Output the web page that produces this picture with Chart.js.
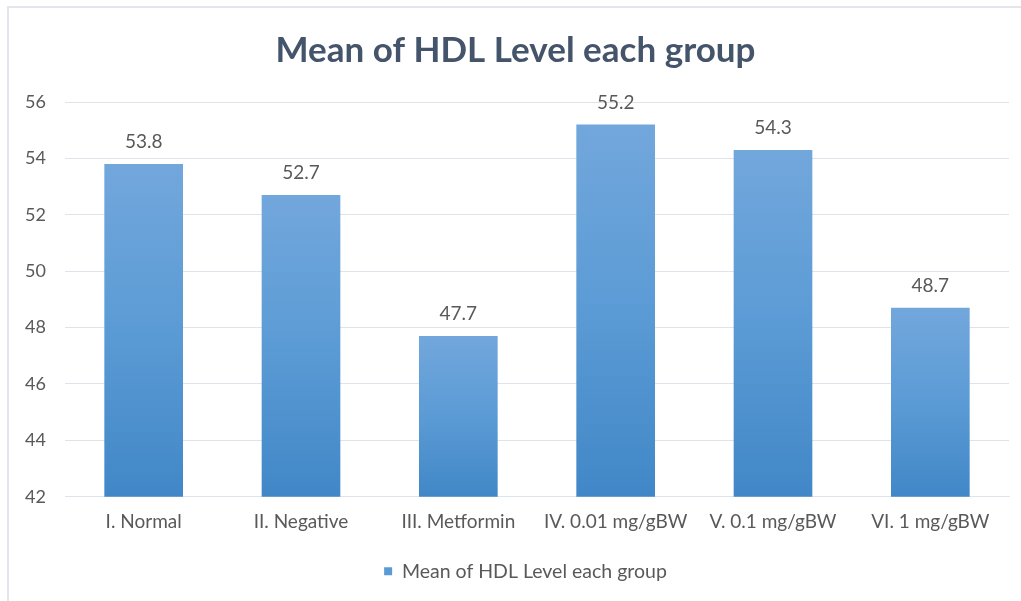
<!DOCTYPE html>
<html>
<head>
<meta charset="utf-8">
<script src="https://cdn.jsdelivr.net/npm/chart.js@4"></script>
<style>
html,body{margin:0;padding:0;background:#fff;}
#wrap{position:relative;width:1021px;height:601px;overflow:hidden;}
#frame{position:absolute;left:7px;top:6px;width:1030px;height:620px;border-top:2px solid #e3e6eb;border-left:2px solid #e3e6eb;}
canvas{position:absolute;left:0;top:0;}
</style>
</head>
<body>
<div id="wrap">
<div id="frame"></div>
<canvas id="c" width="1021" height="601"></canvas>
</div>
<script>
const categories = ["I. Normal", "II. Negative", "III. Metformin", "IV. 0.01 mg/gBW", "V. 0.1 mg/gBW", "VI. 1 mg/gBW"];
const hdlMeans = [53.8, 52.7, 47.7, 55.2, 54.3, 48.7];
const seriesName = "Mean of HDL Level each group";
const chartTitle = "Mean of HDL Level each group";
const yMin = 42, yMax = 56, yStep = 2;

const FONT = "Lato, 'Open Sans', sans-serif";
const TXT = "#595959";

function barFill(ctx) {
  const chart = ctx.chart;
  const ys = chart.scales && chart.scales.y;
  if (!chart.chartArea || !ys || ctx.dataIndex === undefined) return '#5b9bd5';
  const v = ctx.dataset.data[ctx.dataIndex];
  const top = ys.getPixelForValue(v);
  const base = ys.getPixelForValue(yMin);
  if (!isFinite(top) || !isFinite(base) || top === base) return '#5b9bd5';
  const g = chart.ctx.createLinearGradient(0, top, 0, base);
  g.addColorStop(0, '#72a7dc');
  g.addColorStop(0.5, '#5b9bd5');
  g.addColorStop(1, '#4187c7');
  return g;
}

const labelPlugin = {
  id: 'valueLabels',
  afterDatasetsDraw(chart) {
    const ctx = chart.ctx;
    ctx.save();
    ctx.font = "19px " + FONT;
    ctx.fillStyle = TXT;
    ctx.textAlign = 'center';
    ctx.textBaseline = 'middle';
    const ds = chart.data.datasets[0];
    chart.getDatasetMeta(0).data.forEach((bar, i) => {
      ctx.fillText(ds.data[i].toFixed(1), bar.x, bar.y - 22);
    });
    ctx.restore();
  }
};

const legendShift = {
  id: 'legendShift',
  afterLayout(chart) {
    if (chart.legend) { chart.legend.left += 10; chart.legend.right += 10; }
  }
};

new Chart(document.getElementById('c'), {
  type: 'bar',
  data: {
    labels: categories,
    datasets: [{
      label: seriesName,
      data: hdlMeans,
      backgroundColor: barFill,
      borderWidth: 0,
      barPercentage: 0.5,
      categoryPercentage: 1.0
    }]
  },
  options: {
    responsive: false,
    animation: false,
    devicePixelRatio: 1,
    layout: { padding: { left: 22, right: 12, top: 0, bottom: 10 } },
    plugins: {
      title: {
        display: true,
        text: chartTitle,
        color: '#44546a',
        font: { family: FONT, size: 35, weight: 'bold' },
        padding: { top: 30, bottom: 30 }
      },
      legend: {
        position: 'bottom',
        labels: {
          color: TXT,
          font: { family: FONT, size: 19.5 },
          boxWidth: 8,
          boxHeight: 8,
          padding: 10,
          generateLabels(chart) {
            const items = Chart.defaults.plugins.legend.labels.generateLabels(chart);
            items.forEach(it => { it.fillStyle = '#5b9bd5'; it.strokeStyle = '#5b9bd5'; it.lineWidth = 0; });
            return items;
          }
        }
      },
      tooltip: { enabled: false }
    },
    scales: {
      x: {
        afterFit(scale) { scale.height += 4; },
        grid: { display: false, drawTicks: false },
        border: { display: true, color: '#dfe3ea', width: 1 },
        ticks: { color: TXT, font: { family: FONT, size: 19 }, padding: 14, maxRotation: 0, autoSkip: false }
      },
      y: {
        min: yMin, max: yMax,
        afterFit(scale) { scale.width = 43; },
        grid: { color: '#dfe3ea', lineWidth: 1, drawTicks: false },
        border: { display: false },
        ticks: { stepSize: yStep, color: TXT, font: { family: FONT, size: 18 }, padding: 19 }
      }
    }
  },
  plugins: [labelPlugin, legendShift]
});
</script>
</body>
</html>
